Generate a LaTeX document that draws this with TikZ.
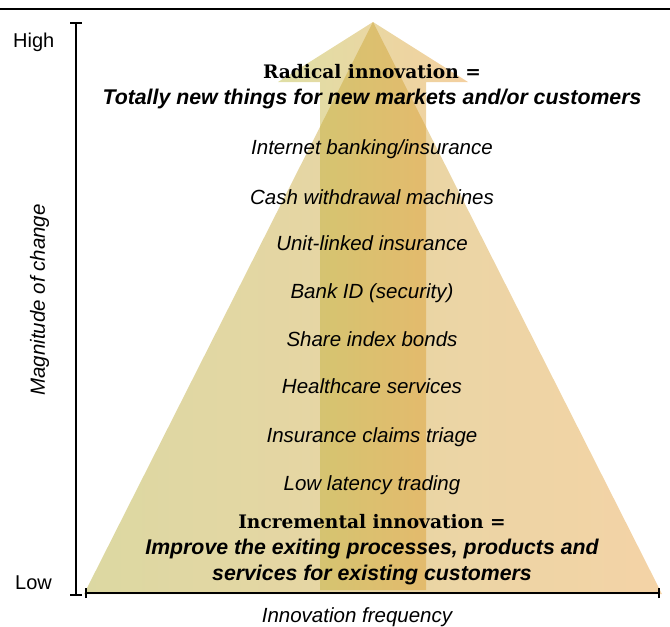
\documentclass[tikz,border=0pt]{standalone}
\usepackage{fontspec}
\setmainfont{Liberation Sans}
\newfontfamily\slabfont{DejaVu Serif}
\definecolor{triL}{RGB}{220,216,162}
\definecolor{triM}{RGB}{233,221,176}
\definecolor{triR}{RGB}{244,211,166}
\definecolor{arrL}{RGB}{183,181,51}
\definecolor{arrR}{RGB}{229,147,37}
\begin{document}
\begin{tikzpicture}[x=1pt,y=-1pt,
  item/.style={font=\fontsize{20.5}{24}\selectfont\itshape, anchor=base, inner sep=0pt},
  boldit/.style={font=\fontsize{21.3}{25}\selectfont\bfseries\itshape, anchor=base, inner sep=0pt},
  head/.style={font=\slabfont\fontsize{18.6}{21}\selectfont\bfseries, anchor=base, inner sep=0pt},
  lab/.style={font=\fontsize{20}{24}\selectfont, inner sep=0pt},
  axisline/.style={line width=2pt, black}]
\useasboundingbox (0,0) rectangle (670,627);
\coordinate (topL) at (0,8.8);
\coordinate (topR) at (670,8.8);
\draw[line width=1.4pt] (topL) -- (topR);
% triangle
\coordinate (apex) at (373,22);
\coordinate (bl) at (84,594);
\coordinate (br) at (662,594);
\shade[left color=triL, middle color=triM, right color=triR] (apex) -- (br) -- (bl) -- cycle;
% arrow
\shade[fill opacity=0.44, left color=arrL, right color=arrR]
  (373,22) -- (468,82) -- (426,82) -- (426,590) -- (320,590) -- (320,82) -- (278,82) -- cycle;
% axes
\coordinate (yt) at (76,22.5);
\coordinate (yb) at (76,594.5);
\draw[axisline] (yt) -- (yb);
\draw[axisline] ([xshift=-6pt]yt) -- ([xshift=6pt]yt);
\draw[axisline] ([xshift=-6pt]yb) -- ([xshift=6pt]yb);
\coordinate (xl) at (86,593);
\coordinate (xr) at (659,593);
\draw[axisline] (xl) -- (xr);
\draw[axisline] ([yshift=-5pt]xl) -- ([yshift=5pt]xl);
\draw[axisline] ([yshift=-5pt]xr) -- ([yshift=5pt]xr);
% axis labels
\node[lab, anchor=base west] (high) at (13,47) {High};
\node[lab, anchor=base west] (low) at (15,589) {Low};
\node[lab, font=\fontsize{20.5}{24}\selectfont\itshape, anchor=base, rotate=90] (mag) at (45,300) {Magnitude of change};
\node[lab, font=\fontsize{20.5}{24}\selectfont\itshape, anchor=base] (freq) at (357,622) {Innovation frequency};
% texts
\node[head] (rad) at (372,78) {Radical innovation =};
\node[boldit] (radd) at (372,104) {Totally new things for new markets and/or customers};
\node[item] (i1) at (372,154) {Internet banking/insurance};
\node[item] (i2) at (372,204) {Cash withdrawal machines};
\node[item] (i3) at (372,250.5) {Unit-linked insurance};
\node[item] (i4) at (372,298) {Bank ID (security)};
\node[item] (i5) at (372,346) {Share index bonds};
\node[item] (i6) at (372,393) {Healthcare services};
\node[item] (i7) at (372,442) {Insurance claims triage};
\node[item] (i8) at (372,490) {Low latency trading};
\node[head] (inc) at (372,528) {Incremental innovation =};
\node[boldit] (incd1) at (372,554) {Improve the exiting processes, products and};
\node[boldit] (incd2) at (372,580) {services for existing customers};
\end{tikzpicture}
\end{document}
